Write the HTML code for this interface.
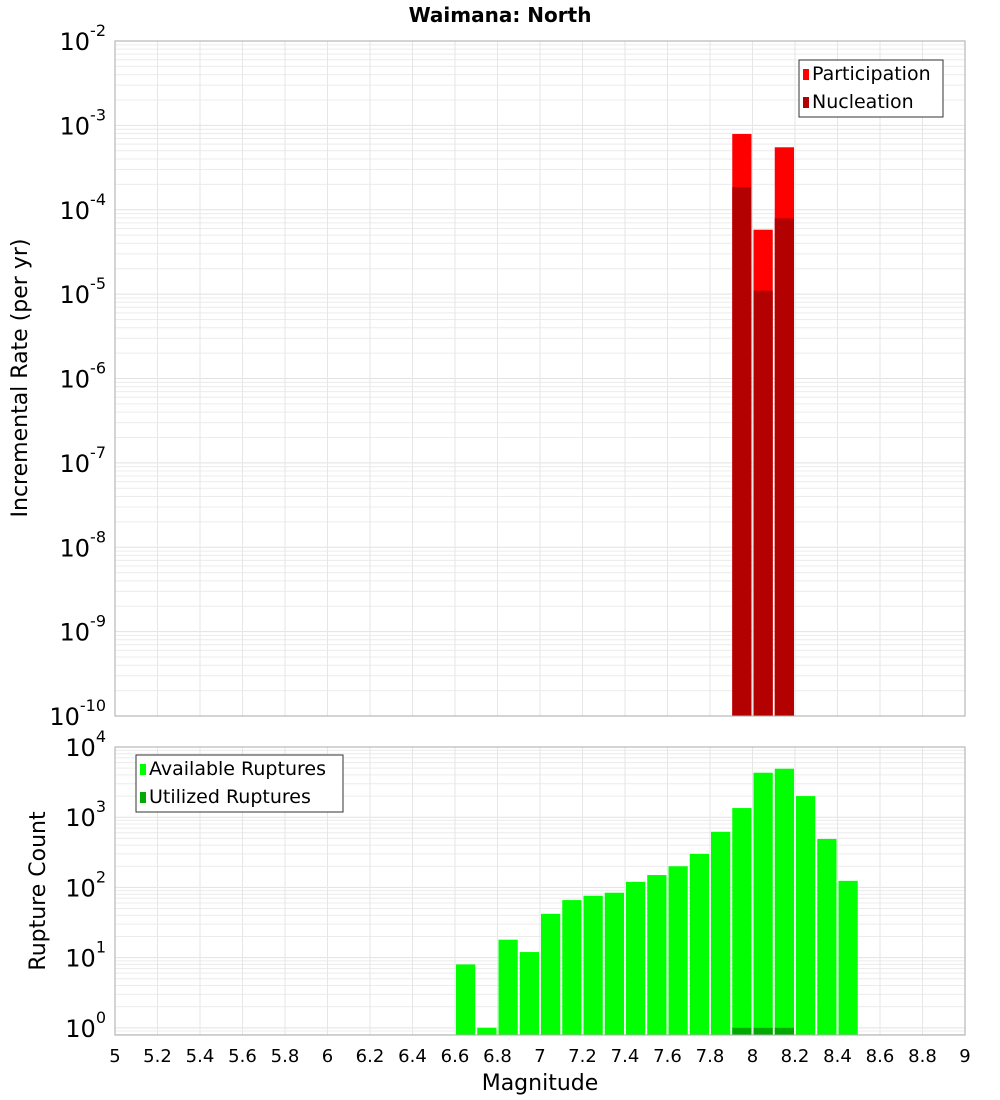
<!DOCTYPE html>
<html><head><meta charset="utf-8">
<style>
body{margin:0;background:#fff;}
svg{display:block;font-family:"Liberation Sans","DejaVu Sans",sans-serif;}
</style></head>
<body>
<svg id="chart" width="1000" height="1100" viewBox="0 0 1000 1100" xmlns="http://www.w3.org/2000/svg">
<text x="500" y="22" text-anchor="middle" font-size="20" font-weight="bold" font-family="DejaVu Sans, sans-serif">Waimana: North</text>
<g id="top"></g>
<g id="bot"></g>
<text transform="translate(27,378) rotate(-90)" text-anchor="middle" font-size="22" font-family="DejaVu Sans, sans-serif">Incremental Rate (per yr)</text>
<text transform="translate(45,891) rotate(-90)" text-anchor="middle" font-size="22" font-family="DejaVu Sans, sans-serif">Rupture Count</text>
<text x="540" y="1090" text-anchor="middle" font-size="22" font-family="DejaVu Sans, sans-serif">Magnitude</text>
</svg>
<script>
const magBins = [6.65,6.75,6.85,6.95,7.05,7.15,7.25,7.35,7.45,7.55,7.65,7.75,7.85,7.95,8.05,8.15,8.25,8.35,8.45];
const availableRuptures = [8,1,18,12,42,66,76,84,120,150,200,300,620,1350,4300,4900,2000,490,124];
const utilizedMags = [7.95,8.05,8.15];
const utilizedRuptures = [1,1,1];
const rateMags = [7.95,8.05,8.15];
const participationRate = [7.9e-4,5.8e-5,5.5e-4];
const nucleationRate = [1.85e-4,1.1e-5,7.9e-5];
const xTicks = [5,5.2,5.4,5.6,5.8,6,6.2,6.4,6.6,6.8,7,7.2,7.4,7.6,7.8,8,8.2,8.4,8.6,8.8,9];
const xTickLabels = ["5","5.2","5.4","5.6","5.8","6","6.2","6.4","6.6","6.8","7","7.2","7.4","7.6","7.8","8","8.2","8.4","8.6","8.8","9"];
const topExps = [-10,-9,-8,-7,-6,-5,-4,-3,-2];
const botExps = [0,1,2,3,4];

const NS="http://www.w3.org/2000/svg";
const X0=115,X1=965;
const x=m=>X0+(m-5)/4*(X1-X0);
const topY={t:41,b:716,lo:-10,hi:-2};
const botY={t:747,b:1035,lo:Math.log10(0.79),hi:4};
const yf=(a,v)=>a.b-(Math.log10(v)-a.lo)/(a.hi-a.lo)*(a.b-a.t);
function mk(p,tag,at){const e=document.createElementNS(NS,tag);for(const k in at)e.setAttribute(k,at[k]);p.appendChild(e);return e;}

function panel(g,a,name){
  // minor grid
  for(let e=Math.floor(a.lo);e<a.hi;e++){for(let k=1;k<10;k++){const v=k*Math.pow(10,e);const lv=Math.log10(v);if(lv<a.lo-1e-9||lv>a.hi+1e-9)continue;const yy=yf(a,v);
    const l=mk(g,'line',{x1:X0,x2:X1,y1:yy,y2:yy,stroke:k==1?'#e2e2e2':'#ececec','stroke-width':1});
    
    }}
  xTicks.forEach(t=>{const l=mk(g,'line',{x1:x(t),x2:x(t),y1:a.t,y2:a.b,stroke:'#e6e6e6','stroke-width':1});
    
    });
}
function frame(g,a,name){
  const r=mk(g,'rect',{x:X0,y:a.t,width:X1-X0,height:a.b-a.t,fill:'none',stroke:'#aaa','stroke-width':1});
  
  
}
function ylabels(g,a,exps){
  exps.forEach(e=>{const yy=yf(a,Math.pow(10,e));const t=mk(g,'text',{x:106,y:yy+9,'text-anchor':'end','font-size':24,'font-family':'DejaVu Sans, sans-serif'});
    
    
    t.textContent='10';const s=mk(t,'tspan',{dy:-14,'font-size':16});s.textContent=String(e);
    const s2=mk(t,'tspan',{dy:14,'font-size':1});s2.textContent=' ';});
}
function bar(g,m,v,a,col,name){
  const yy=yf(a,v);const r=mk(g,'rect',{x:x(m-0.05)+1,y:yy,width:x(m+0.05)-x(m-0.05)-2,height:a.b-yy,fill:col});
  
  
}
function legend(g,lx,ly,w,items,name){
  const r=mk(g,'rect',{x:lx,y:ly,width:w,height:57,fill:'#fff',stroke:'#333','stroke-width':1});
  
  
  items.forEach((it,i)=>{const s=mk(g,'rect',{x:lx+4,y:ly+9+i*28,width:6,height:11,fill:it[1]});
    
    
    const t=mk(g,'text',{x:lx+13,y:ly+20+i*28,'font-size':19,'font-family':'DejaVu Sans, sans-serif'});
    
    
    t.textContent=it[0];});
}
const gt=document.getElementById('top'),gb=document.getElementById('bot');
panel(gt,topY,'top');panel(gb,botY,'bottom');
rateMags.forEach((m,i)=>bar(gt,m,participationRate[i],topY,'#ff0000','participation-bar'));
rateMags.forEach((m,i)=>bar(gt,m,nucleationRate[i],topY,'#b30000','nucleation-bar'));
magBins.forEach((m,i)=>bar(gb,m,availableRuptures[i],botY,'#00ff00','available-bar'));
utilizedMags.forEach((m,i)=>bar(gb,m,utilizedRuptures[i],botY,'#00aa00','utilized-bar'));
frame(gt,topY,'top');frame(gb,botY,'bottom');
ylabels(gt,topY,topExps);ylabels(gb,botY,botExps);
xTicks.forEach((t,i)=>{const tx=mk(gb,'text',{x:x(t),y:1062,'text-anchor':'middle','font-size':18,'font-family':'DejaVu Sans, sans-serif'});
  
  
  tx.textContent=xTickLabels[i];});
legend(gt,799,60,144,[['Participation','#ff0000'],['Nucleation','#b30000']],'legend-top');
legend(gb,136,755,207,[['Available Ruptures','#00ff00'],['Utilized Ruptures','#00aa00']],'legend-bottom');
</script>
</body></html>
